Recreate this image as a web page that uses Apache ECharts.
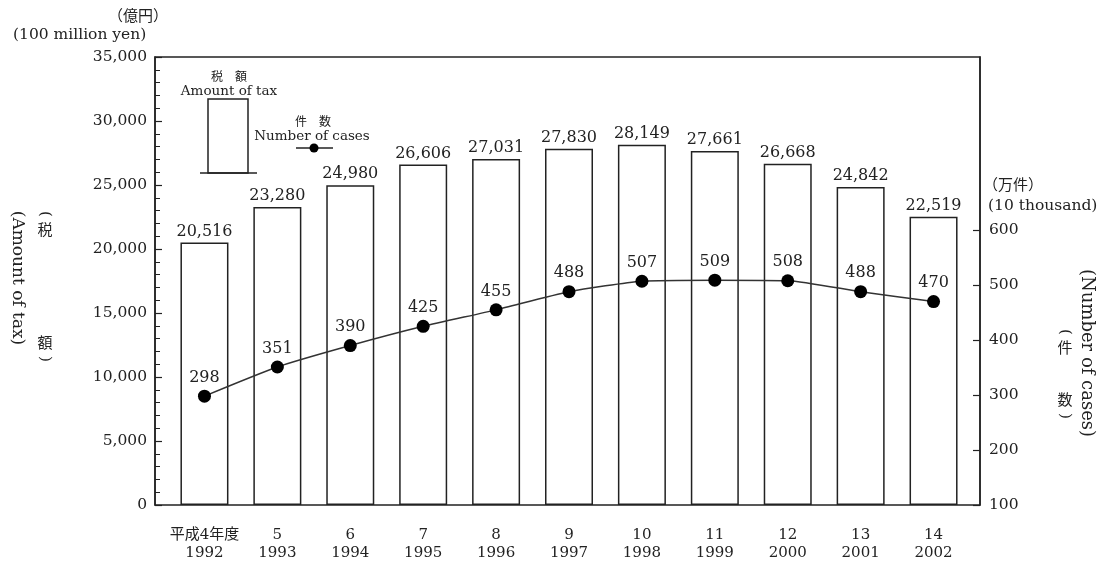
<!DOCTYPE html>
<html>
<head>
<meta charset="utf-8">
<script src="https://cdn.jsdelivr.net/npm/echarts@6/dist/echarts.min.js"></script>
<style>
html,body{margin:0;padding:0;background:#fff;}
#chart{width:1109px;height:563px;}
</style>
</head>
<body>
<div id="chart"></div>
<script>
// ---- data ----
var eraLabels = ['平成4年度', '5', '6', '7', '8', '9', '10', '11', '12', '13', '14'];
var yearLabels = ['1992', '1993', '1994', '1995', '1996', '1997', '1998', '1999', '2000', '2001', '2002'];
var taxAmount = [20516, 23280, 24980, 26606, 27031, 27830, 28149, 27661, 26668, 24842, 22519];
var numCases = [298, 351, 390, 425, 455, 488, 507, 509, 508, 488, 470];
var leftTicks = [0, 5000, 10000, 15000, 20000, 25000, 30000, 35000];
var rightTicks = [100, 200, 300, 400, 500, 600];

var categories = eraLabels.map(function (e, i) { return e + '\n' + yearLabels[i]; });

var SERIF = '"DejaVu Serif", "Noto Sans CJK JP", serif';
var CJK = '"Noto Sans CJK JP", sans-serif';
var INK = '#222';

var chart = echarts.init(document.getElementById('chart'), null, {renderer: 'canvas'});

function fmtNum(v) { return String(v).replace(/\B(?=(\d{3})+(?!\d))/g, ','); }

function vparen(ch, x, y) {
  return {type: 'text', x: x, y: y, rotation: -Math.PI / 2,
    style: {text: ch, font: '15px ' + SERIF, fill: INK, align: 'center', verticalAlign: 'middle'}};
}
function vchar(ch, x, y) {
  return {type: 'text', x: x, y: y,
    style: {text: ch, font: '15px ' + CJK, fill: INK, align: 'center', verticalAlign: 'middle'}};
}

var option = {
  backgroundColor: '#fff',
  animation: false,
  grid: [
    {left: 155, right: 129, top: 57, bottom: 58, show: true, borderColor: INK, borderWidth: 1.5, backgroundColor: 'transparent'},
    {left: 168, right: 139, top: 57, bottom: 58}
  ],
  xAxis: [
    {
      type: 'category', gridIndex: 1, data: categories,
      axisLine: {show: false}, axisTick: {show: false},
      axisLabel: {
        margin: 21, color: INK, fontFamily: SERIF, fontSize: 15, lineHeight: 18,
        interval: 0
      }
    },
    {type: 'value', gridIndex: 0, min: 0, max: 1, show: false}
  ],
  yAxis: [
    {
      type: 'value', gridIndex: 0, min: 0, max: 35000, interval: 5000, position: 'left',
      axisLine: {show: true, lineStyle: {color: INK, width: 1.5}},
      axisTick: {show: true, inside: true, length: 7, lineStyle: {color: INK, width: 1.2}},
      minorTick: {show: true, splitNumber: 5, length: 5, lineStyle: {color: INK, width: 1}},
      splitLine: {show: false},
      axisLabel: {
        color: INK, fontFamily: SERIF, fontSize: 15.5, margin: 8,
        customValues: leftTicks,
        formatter: function (v) { return fmtNum(v); }
      }
    },
    {
      type: 'value', gridIndex: 0, min: 100, max: 915, position: 'right',
      axisLine: {show: true, lineStyle: {color: INK, width: 1.5}},
      axisTick: {show: true, inside: true, length: 7, customValues: rightTicks, lineStyle: {color: INK, width: 1.2}},
      splitLine: {show: false},
      axisLabel: {color: INK, fontFamily: SERIF, fontSize: 15.5, margin: 9, customValues: rightTicks}
    },
    {type: 'value', gridIndex: 1, min: 0, max: 35000, show: false, splitLine: {show: false}},
    {type: 'value', gridIndex: 1, min: 100, max: 915, show: false, splitLine: {show: false}}
  ],
  series: [
    {
      name: 'Amount of tax', type: 'bar', xAxisIndex: 0, yAxisIndex: 2,
      data: taxAmount, barWidth: 48,
      itemStyle: {color: '#fff', borderColor: INK, borderWidth: 1.5},
      label: {
        show: true, position: 'top', distance: 3, color: INK, fontFamily: SERIF, fontSize: 16,
        formatter: function (p) { return fmtNum(p.value); }
      },
      z: 2
    },
    {
      name: 'Number of cases', type: 'line', xAxisIndex: 0, yAxisIndex: 3,
      data: numCases, smooth: 0.2,
      symbol: 'circle', symbolSize: 13,
      itemStyle: {color: '#000'},
      lineStyle: {color: '#333', width: 1.5},
      label: {show: true, position: 'top', distance: 4, color: INK, fontFamily: SERIF, fontSize: 16},
      z: 3
    }
  ],
  graphic: [
    // left unit
    {type: 'text', left: 108, top: 8, style: {text: '（億円）', font: '15px ' + CJK, fill: INK}},
    {type: 'text', left: 13, top: 27, style: {text: '(100 million yen)', font: '15.5px ' + SERIF, fill: INK}},
    // right unit
    {type: 'text', left: 983, top: 177, style: {text: '（万件）', font: '15px ' + CJK, fill: INK}},
    {type: 'text', left: 988, top: 198, style: {text: '(10 thousand)', font: '15.5px ' + SERIF, fill: INK}},
    // left axis name
    {type: 'text', x: 17, y: 278, rotation: -Math.PI / 2,
      style: {text: '(Amount of tax)', font: '17px ' + SERIF, fill: INK, align: 'center', verticalAlign: 'middle'}},
    vparen('(', 45, 214), vchar('税', 45, 229), vchar('額', 45, 342), vparen(')', 45, 359),
    // right axis name
    {type: 'text', x: 1087, y: 353, rotation: -Math.PI / 2,
      style: {text: '(Number of cases)', font: '18px ' + SERIF, fill: INK, align: 'center', verticalAlign: 'middle'}},
    vparen('(', 1065, 332), vchar('件', 1065, 347), vchar('数', 1065, 399), vparen(')', 1065, 416),
    // legend: amount of tax
    {type: 'text', x: 229, y: 76, style: {text: '税　額', font: '12px ' + CJK, fill: INK, align: 'center', verticalAlign: 'middle'}},
    {type: 'text', x: 229, y: 91, style: {text: 'Amount of tax', font: '13.5px ' + SERIF, fill: INK, align: 'center', verticalAlign: 'middle'}},
    {type: 'rect', shape: {x: 208, y: 99, width: 40, height: 74}, style: {fill: '#fff', stroke: INK, lineWidth: 1.5}},
    {type: 'line', shape: {x1: 200, y1: 173, x2: 257, y2: 173}, style: {stroke: INK, lineWidth: 1.5}},
    // legend: number of cases
    {type: 'text', x: 313, y: 121, style: {text: '件　数', font: '12px ' + CJK, fill: INK, align: 'center', verticalAlign: 'middle'}},
    {type: 'text', x: 312, y: 136, style: {text: 'Number of cases', font: '13.5px ' + SERIF, fill: INK, align: 'center', verticalAlign: 'middle'}},
    {type: 'line', shape: {x1: 296, y1: 148, x2: 333, y2: 148}, style: {stroke: INK, lineWidth: 1.5}},
    {type: 'circle', shape: {cx: 314, cy: 148, r: 4.5}, style: {fill: '#000'}}
  ]
};
chart.setOption(option);
</script>
</body>
</html>
